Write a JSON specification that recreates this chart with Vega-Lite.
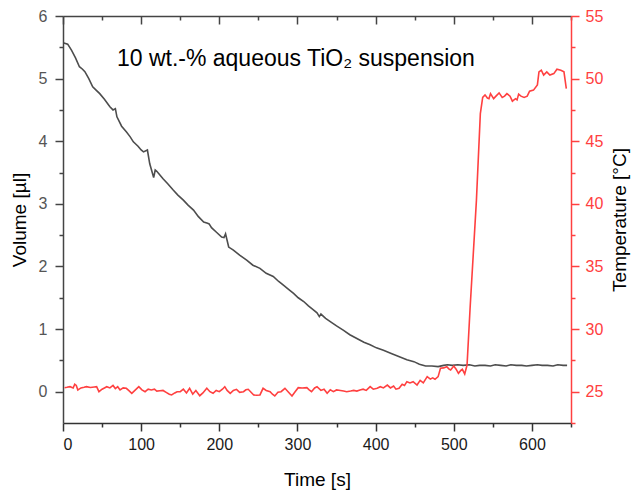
{
  "$schema": "https://vega.github.io/schema/vega-lite/v6.json",
  "width": 508,
  "height": 407,
  "autosize": {"type": "none"},
  "padding": {"left": 63, "top": 16, "right": 60, "bottom": 68},
  "config": {
    "font": "Liberation Sans",
    "view": {"stroke": null},
    "axis": {"grid": false, "domainWidth": 1.5, "tickWidth": 1.5, "labelFontSize": 16, "titleFontSize": 19, "titleFontWeight": "normal", "titleColor": "#000000", "labelFont": "Liberation Sans", "titleFont": "Liberation Sans"}
  },
  "datasets": {
    "vol": [
      {"t": 1, "v": 5.57}, {"t": 6, "v": 5.55}, {"t": 11, "v": 5.45}, {"t": 16, "v": 5.33}, {"t": 21, "v": 5.19}, {"t": 25, "v": 5.15}, {"t": 28, "v": 5.11}, {"t": 33, "v": 5.0}, {"t": 38, "v": 4.87}, {"t": 42, "v": 4.82}, {"t": 47, "v": 4.76}, {"t": 53, "v": 4.67}, {"t": 60, "v": 4.55}, {"t": 64, "v": 4.5}, {"t": 67, "v": 4.52}, {"t": 69, "v": 4.39}, {"t": 75, "v": 4.24}, {"t": 81, "v": 4.15}, {"t": 86, "v": 4.07}, {"t": 90, "v": 3.99}, {"t": 96, "v": 3.92}, {"t": 100, "v": 3.86}, {"t": 103, "v": 3.83}, {"t": 108, "v": 3.86}, {"t": 111, "v": 3.64}, {"t": 116, "v": 3.42}, {"t": 118, "v": 3.54}, {"t": 120, "v": 3.52}, {"t": 124, "v": 3.46}, {"t": 128, "v": 3.4}, {"t": 134, "v": 3.32}, {"t": 141, "v": 3.22}, {"t": 147, "v": 3.14}, {"t": 154, "v": 3.06}, {"t": 160, "v": 2.98}, {"t": 167, "v": 2.9}, {"t": 173, "v": 2.8}, {"t": 180, "v": 2.71}, {"t": 185, "v": 2.69}, {"t": 187, "v": 2.68}, {"t": 190, "v": 2.62}, {"t": 196, "v": 2.55}, {"t": 203, "v": 2.47}, {"t": 206, "v": 2.46}, {"t": 208, "v": 2.52}, {"t": 212, "v": 2.31}, {"t": 218, "v": 2.26}, {"t": 226, "v": 2.18}, {"t": 235, "v": 2.1}, {"t": 243, "v": 2.02}, {"t": 252, "v": 1.97}, {"t": 260, "v": 1.89}, {"t": 269, "v": 1.84}, {"t": 276, "v": 1.76}, {"t": 282, "v": 1.7}, {"t": 289, "v": 1.63}, {"t": 295, "v": 1.57}, {"t": 301, "v": 1.5}, {"t": 308, "v": 1.44}, {"t": 314, "v": 1.37}, {"t": 320, "v": 1.31}, {"t": 325, "v": 1.26}, {"t": 328, "v": 1.2}, {"t": 330, "v": 1.24}, {"t": 336, "v": 1.17}, {"t": 342, "v": 1.12}, {"t": 350, "v": 1.05}, {"t": 359, "v": 0.98}, {"t": 367, "v": 0.91}, {"t": 376, "v": 0.85}, {"t": 385, "v": 0.79}, {"t": 393, "v": 0.75}, {"t": 401, "v": 0.7}, {"t": 410, "v": 0.66}, {"t": 420, "v": 0.61}, {"t": 428, "v": 0.57}, {"t": 432, "v": 0.55}, {"t": 440, "v": 0.51}, {"t": 449, "v": 0.48}, {"t": 456, "v": 0.44}, {"t": 464, "v": 0.41}, {"t": 472, "v": 0.41}, {"t": 480, "v": 0.4}, {"t": 487, "v": 0.42}, {"t": 492, "v": 0.43}, {"t": 498, "v": 0.42}, {"t": 505, "v": 0.43}, {"t": 512, "v": 0.42}, {"t": 520, "v": 0.43}, {"t": 527, "v": 0.41}, {"t": 533, "v": 0.42}, {"t": 540, "v": 0.42}, {"t": 547, "v": 0.41}, {"t": 553, "v": 0.43}, {"t": 560, "v": 0.42}, {"t": 567, "v": 0.41}, {"t": 573, "v": 0.43}, {"t": 580, "v": 0.42}, {"t": 587, "v": 0.42}, {"t": 593, "v": 0.41}, {"t": 600, "v": 0.42}, {"t": 607, "v": 0.43}, {"t": 613, "v": 0.42}, {"t": 620, "v": 0.42}, {"t": 627, "v": 0.41}, {"t": 633, "v": 0.43}, {"t": 640, "v": 0.42}, {"t": 645, "v": 0.42}
    ],
    "temp": [
      {"t": 2, "T": 25.32}, {"t": 5, "T": 25.35}, {"t": 9, "T": 25.4}, {"t": 13, "T": 25.3}, {"t": 15, "T": 25.6}, {"t": 17, "T": 25.5}, {"t": 19, "T": 25.14}, {"t": 23, "T": 25.3}, {"t": 27, "T": 25.35}, {"t": 30, "T": 25.4}, {"t": 35, "T": 25.33}, {"t": 40, "T": 25.38}, {"t": 43, "T": 25.4}, {"t": 46, "T": 25.0}, {"t": 50, "T": 25.2}, {"t": 53, "T": 25.3}, {"t": 56, "T": 25.4}, {"t": 60, "T": 25.3}, {"t": 64, "T": 25.5}, {"t": 67, "T": 25.25}, {"t": 70, "T": 25.4}, {"t": 73, "T": 25.14}, {"t": 77, "T": 25.3}, {"t": 81, "T": 25.27}, {"t": 84, "T": 25.1}, {"t": 88, "T": 24.87}, {"t": 92, "T": 25.1}, {"t": 97, "T": 25.4}, {"t": 101, "T": 25.15}, {"t": 105, "T": 25.0}, {"t": 109, "T": 25.2}, {"t": 113, "T": 25.14}, {"t": 117, "T": 25.2}, {"t": 120, "T": 25.05}, {"t": 124, "T": 25.08}, {"t": 128, "T": 25.1}, {"t": 132, "T": 24.95}, {"t": 136, "T": 24.8}, {"t": 139, "T": 24.74}, {"t": 143, "T": 24.9}, {"t": 146, "T": 25.0}, {"t": 150, "T": 25.0}, {"t": 154, "T": 25.2}, {"t": 158, "T": 24.9}, {"t": 162, "T": 25.27}, {"t": 166, "T": 24.8}, {"t": 170, "T": 25.1}, {"t": 175, "T": 24.68}, {"t": 179, "T": 24.9}, {"t": 184, "T": 25.27}, {"t": 188, "T": 25.0}, {"t": 192, "T": 24.87}, {"t": 196, "T": 25.1}, {"t": 200, "T": 25.0}, {"t": 204, "T": 25.2}, {"t": 207, "T": 25.4}, {"t": 210, "T": 25.1}, {"t": 214, "T": 24.87}, {"t": 218, "T": 25.1}, {"t": 222, "T": 25.19}, {"t": 226, "T": 24.95}, {"t": 231, "T": 25.0}, {"t": 234, "T": 25.15}, {"t": 237, "T": 25.19}, {"t": 240, "T": 25.0}, {"t": 244, "T": 24.74}, {"t": 248, "T": 24.72}, {"t": 252, "T": 24.74}, {"t": 256, "T": 25.27}, {"t": 260, "T": 25.1}, {"t": 265, "T": 25.0}, {"t": 268, "T": 24.8}, {"t": 271, "T": 24.66}, {"t": 275, "T": 24.95}, {"t": 279, "T": 25.0}, {"t": 284, "T": 25.27}, {"t": 288, "T": 25.0}, {"t": 293, "T": 24.66}, {"t": 297, "T": 25.0}, {"t": 301, "T": 25.32}, {"t": 306, "T": 25.3}, {"t": 312, "T": 25.32}, {"t": 315, "T": 25.15}, {"t": 318, "T": 25.0}, {"t": 322, "T": 25.3}, {"t": 325, "T": 25.4}, {"t": 330, "T": 25.1}, {"t": 334, "T": 25.2}, {"t": 338, "T": 24.87}, {"t": 342, "T": 25.15}, {"t": 346, "T": 25.0}, {"t": 350, "T": 25.14}, {"t": 355, "T": 25.1}, {"t": 359, "T": 25.05}, {"t": 363, "T": 25.0}, {"t": 368, "T": 25.05}, {"t": 372, "T": 25.1}, {"t": 376, "T": 25.05}, {"t": 380, "T": 25.14}, {"t": 384, "T": 25.2}, {"t": 388, "T": 25.1}, {"t": 393, "T": 25.4}, {"t": 397, "T": 25.2}, {"t": 402, "T": 25.27}, {"t": 406, "T": 25.4}, {"t": 410, "T": 25.3}, {"t": 415, "T": 25.53}, {"t": 419, "T": 25.3}, {"t": 423, "T": 25.45}, {"t": 426, "T": 25.2}, {"t": 430, "T": 25.27}, {"t": 434, "T": 25.6}, {"t": 437, "T": 25.5}, {"t": 440, "T": 25.8}, {"t": 444, "T": 25.7}, {"t": 448, "T": 25.8}, {"t": 453, "T": 25.53}, {"t": 457, "T": 25.9}, {"t": 461, "T": 25.7}, {"t": 466, "T": 26.2}, {"t": 470, "T": 26.0}, {"t": 473, "T": 26.1}, {"t": 476, "T": 25.99}, {"t": 480, "T": 26.2}, {"t": 483, "T": 26.87}, {"t": 487, "T": 26.9}, {"t": 491, "T": 27.0}, {"t": 494, "T": 26.8}, {"t": 496, "T": 26.73}, {"t": 500, "T": 27.05}, {"t": 503, "T": 26.8}, {"t": 506, "T": 26.47}, {"t": 509, "T": 26.7}, {"t": 511, "T": 26.79}, {"t": 514, "T": 26.41}, {"t": 517, "T": 27.13}, {"t": 521, "T": 31.8}, {"t": 526, "T": 37.1}, {"t": 529, "T": 40.3}, {"t": 534, "T": 47.2}, {"t": 537, "T": 48.5}, {"t": 540, "T": 48.7}, {"t": 543, "T": 48.45}, {"t": 545, "T": 48.4}, {"t": 547, "T": 48.8}, {"t": 551, "T": 48.4}, {"t": 554, "T": 48.6}, {"t": 558, "T": 48.86}, {"t": 562, "T": 48.5}, {"t": 565, "T": 48.6}, {"t": 568, "T": 48.8}, {"t": 572, "T": 48.6}, {"t": 575, "T": 48.2}, {"t": 579, "T": 48.4}, {"t": 581, "T": 48.3}, {"t": 583, "T": 48.76}, {"t": 586, "T": 48.6}, {"t": 590, "T": 48.5}, {"t": 594, "T": 48.6}, {"t": 597, "T": 49.0}, {"t": 602, "T": 49.08}, {"t": 607, "T": 49.5}, {"t": 609, "T": 50.54}, {"t": 612, "T": 50.67}, {"t": 615, "T": 50.28}, {"t": 619, "T": 50.54}, {"t": 623, "T": 50.28}, {"t": 628, "T": 50.4}, {"t": 632, "T": 50.75}, {"t": 637, "T": 50.67}, {"t": 641, "T": 50.54}, {"t": 644, "T": 49.2}
    ],
    "note": [{"label": "10 wt.-% aqueous TiO₂ suspension"}]
  },
  "layer": [
    {
      "layer": [
        {
          "data": {"name": "vol"},
          "mark": {"type": "line", "color": "#4d4d4d", "strokeWidth": 1.6, "clip": true},
          "encoding": {
            "x": {
              "field": "t", "type": "quantitative",
              "scale": {"domain": [0, 650], "nice": false, "zero": false},
              "axis": {
                "orient": "bottom", "title": "Time [s]", "format": "d",
                "values": [0, 100, 200, 300, 400, 500, 600],
                "tickSize": 8, "labelPadding": 5, "titlePadding": 18,
                "domainColor": "#333333", "tickColor": "#333333", "labelColor": "#1a1a1a"
              }
            },
            "y": {
              "field": "v", "type": "quantitative",
              "scale": {"domain": [-0.5, 6], "nice": false, "zero": false},
              "axis": {
                "orient": "left", "title": "Volume [µl]", "format": "d",
                "values": [0, 1, 2, 3, 4, 5, 6],
                "tickSize": 8, "labelPadding": 8, "titlePadding": 9,
                "domainColor": "#444444", "tickColor": "#444444", "labelColor": "#555555"
              }
            }
          }
        },
        {
          "data": {"name": "note"},
          "mark": {"type": "text", "fontSize": 23, "font": "Liberation Sans", "color": "#000000", "align": "center", "baseline": "middle"},
          "encoding": {
            "x": {
              "datum": 298, "type": "quantitative",
              "axis": {"orient": "bottom", "title": null, "labels": false, "domain": false, "values": [50, 150, 250, 350, 450, 550, 650], "tickSize": 4, "tickColor": "#333333"}
            },
            "y": {
              "datum": 5.32, "type": "quantitative",
              "axis": {"orient": "left", "title": null, "labels": false, "domain": false, "values": [0.5, 1.5, 2.5, 3.5, 4.5, 5.5], "tickSize": 4, "tickColor": "#444444"}
            },
            "text": {"field": "label", "type": "nominal"}
          }
        }
      ],
      "resolve": {"axis": {"x": "independent", "y": "independent"}}
    },
    {
      "layer": [
        {
          "data": {"name": "temp"},
          "mark": {"type": "line", "color": "#ff4040", "strokeWidth": 1.6, "clip": true},
          "encoding": {
            "x": {
              "field": "t", "type": "quantitative",
              "scale": {"domain": [0, 650], "nice": false, "zero": false},
              "axis": {
                "orient": "top", "title": null, "labels": false,
                "values": [0, 100, 200, 300, 400, 500, 600],
                "tickSize": -8, "domainColor": "#444444", "tickColor": "#444444"
              }
            },
            "y": {
              "field": "T", "type": "quantitative",
              "scale": {"domain": [22.5, 55], "nice": false, "zero": false},
              "axis": {
                "orient": "right", "title": "Temperature [°C]", "format": "d",
                "values": [25, 30, 35, 40, 45, 50, 55],
                "tickSize": 8, "labelPadding": 6, "titlePadding": 8, "titleAngle": 270, "titleBaseline": "top",
                "domainColor": "#ff4040", "tickColor": "#ff4040", "labelColor": "#ff4040"
              }
            }
          }
        },
        {
          "data": {"name": "temp"},
          "mark": {"type": "line", "strokeOpacity": 0, "clip": true},
          "encoding": {
            "x": {
              "field": "t", "type": "quantitative",
              "axis": {"orient": "top", "title": null, "labels": false, "domain": false, "values": [50, 150, 250, 350, 450, 550, 650], "tickSize": -4, "tickColor": "#444444"}
            },
            "y": {
              "field": "T", "type": "quantitative",
              "axis": {"orient": "right", "title": null, "labels": false, "domain": false, "values": [22.5, 27.5, 32.5, 37.5, 42.5, 47.5, 52.5], "tickSize": 4, "tickColor": "#ff4040"}
            }
          }
        }
      ],
      "resolve": {"axis": {"x": "independent", "y": "independent"}}
    }
  ],
  "resolve": {"scale": {"y": "independent"}, "axis": {"x": "independent", "y": "independent"}}
}
